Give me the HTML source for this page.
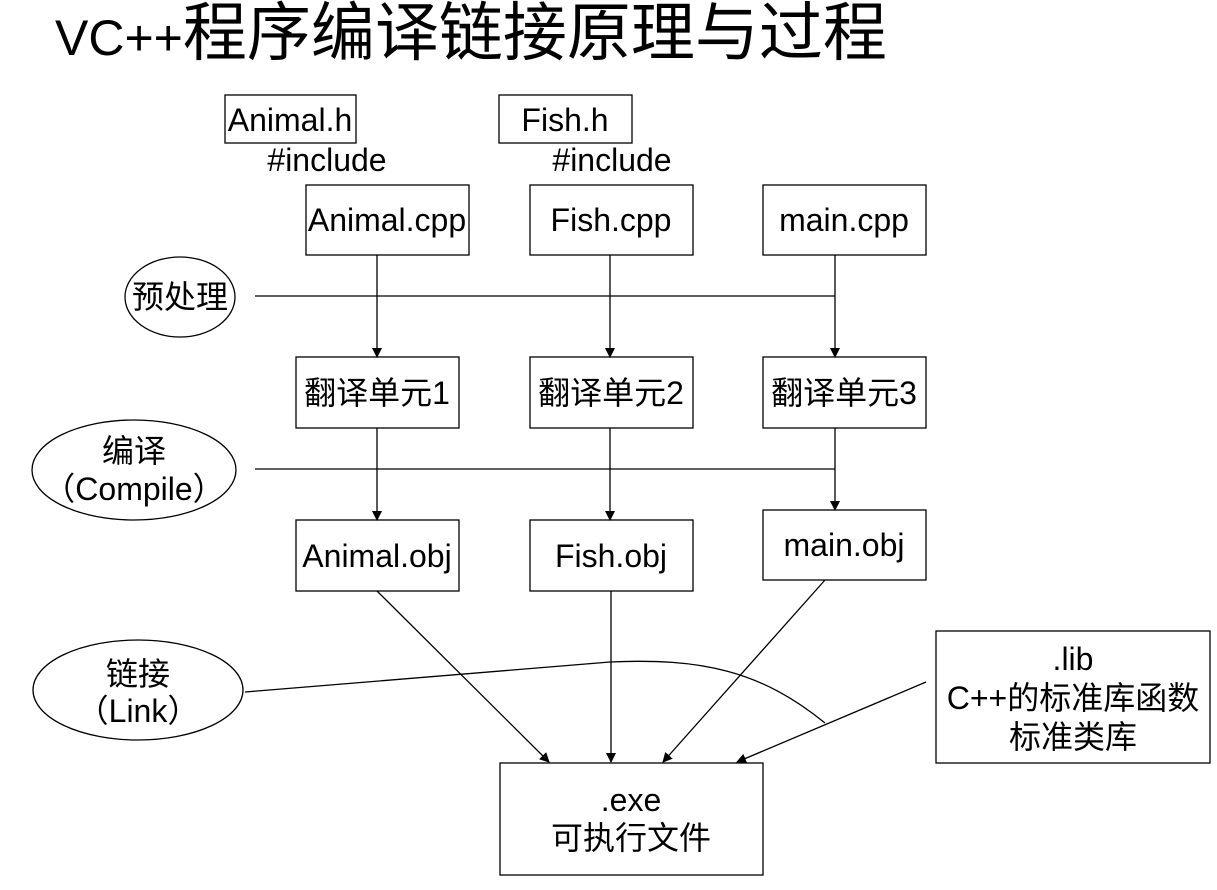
<!DOCTYPE html>
<html><head><meta charset="utf-8"><style>
html,body{margin:0;padding:0;background:#fff;}
svg text{font-family:"Liberation Sans","Noto Sans CJK SC",sans-serif;fill:#000;}
</style></head><body>
<svg width="1217" height="885" xmlns="http://www.w3.org/2000/svg">
<defs><marker id="a" markerWidth="10" markerHeight="10" refX="9" refY="5" orient="auto" markerUnits="userSpaceOnUse"><path d="M0,0 L10,5 L0,10 z" fill="#000"/></marker></defs>
<text x="55" y="55" font-size="50">VC++<tspan font-size="64">程序编译链接原理与过程</tspan></text>
<g fill="none" stroke="#000" stroke-width="1.3">
<rect x="225" y="95" width="131" height="48"/>
<rect x="499" y="95" width="133" height="48"/>
<rect x="306" y="185" width="163" height="70"/>
<rect x="530" y="185" width="163" height="70"/>
<rect x="763" y="185" width="163" height="70"/>
<rect x="296" y="357" width="163" height="71"/>
<rect x="530" y="357" width="163" height="71"/>
<rect x="763" y="357" width="163" height="71"/>
<rect x="296" y="520" width="163" height="71"/>
<rect x="530" y="520" width="163" height="71"/>
<rect x="763" y="510" width="163" height="70"/>
<rect x="936" y="631" width="274" height="132"/>
<rect x="500" y="763" width="263" height="112"/>
<ellipse cx="180" cy="297" rx="55" ry="40"/>
<ellipse cx="134" cy="470" rx="102" ry="50"/>
<ellipse cx="138" cy="690" rx="105" ry="50"/>
<line x1="255" y1="296" x2="835" y2="296"/>
<line x1="255" y1="469" x2="835" y2="469"/>
<path d="M245,692 L610,662 C700,658 760,670 825,723"/>
</g>
<g stroke="#000" stroke-width="1.3" marker-end="url(#a)">
<line x1="377" y1="255" x2="377" y2="357"/>
<line x1="610" y1="255" x2="610" y2="357"/>
<line x1="835" y1="255" x2="835" y2="357"/>
<line x1="377" y1="428" x2="377" y2="520"/>
<line x1="610" y1="428" x2="610" y2="520"/>
<line x1="835" y1="428" x2="835" y2="510"/>
<line x1="377" y1="591" x2="549" y2="762"/>
<line x1="611" y1="591" x2="611" y2="762"/>
<line x1="825" y1="580" x2="663" y2="762"/>
<line x1="926" y1="682" x2="737" y2="762"/>
</g>
<g font-size="32" text-anchor="middle">
<text x="290" y="131">Animal.h</text>
<text x="565" y="131">Fish.h</text>
<text x="327" y="171">#include</text>
<text x="612" y="171">#include</text>
<text x="387" y="231">Animal.cpp</text>
<text x="611" y="231">Fish.cpp</text>
<text x="844" y="231">main.cpp</text>
<text x="180" y="308">预处理</text>
<text x="377" y="404">翻译单元1</text>
<text x="611" y="404">翻译单元2</text>
<text x="844" y="404">翻译单元3</text>
<text x="134" y="462">编译</text>
<text x="134" y="500">（Compile）</text>
<text x="377" y="567">Animal.obj</text>
<text x="611" y="567">Fish.obj</text>
<text x="844" y="556">main.obj</text>
<text x="138" y="685">链接</text>
<text x="138" y="722">（Link）</text>
<text x="1073" y="670">.lib</text>
<text x="1073" y="709">C++的标准库函数</text>
<text x="1073" y="748">标准类库</text>
<text x="631" y="811">.exe</text>
<text x="631" y="849">可执行文件</text>
</g>
</svg>
</body></html>
